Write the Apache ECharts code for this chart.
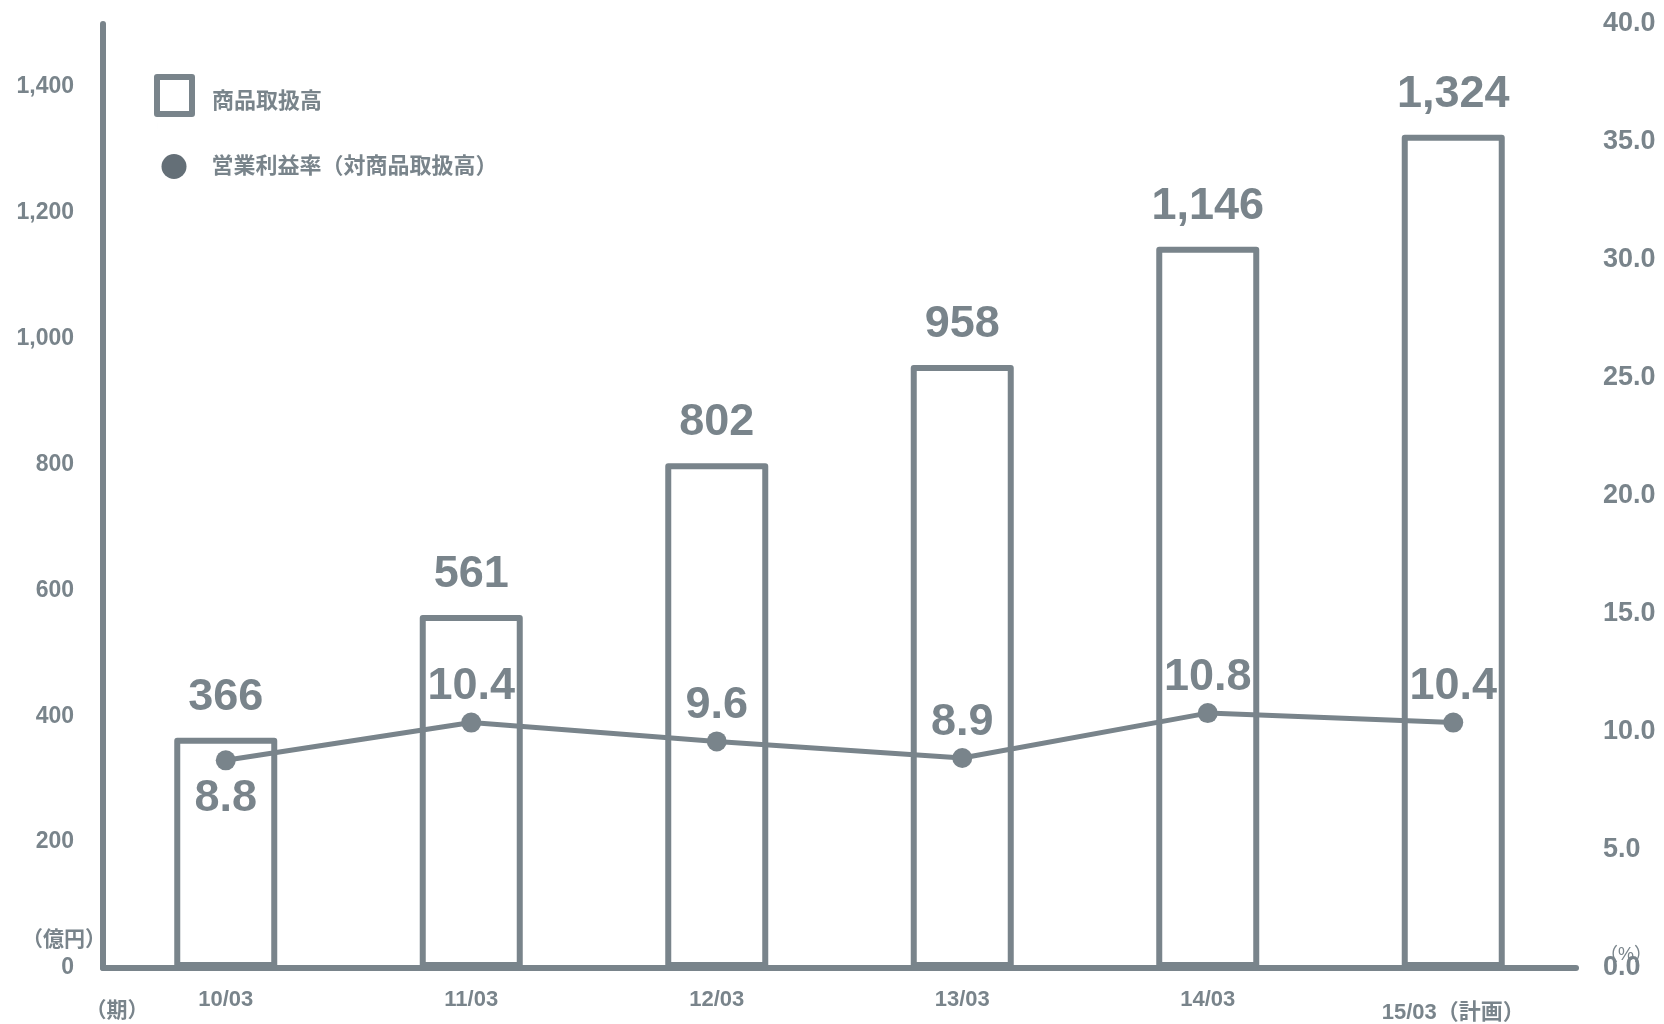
<!DOCTYPE html>
<html>
<head>
<meta charset="utf-8">
<script src="https://cdn.jsdelivr.net/npm/echarts@6/dist/echarts.min.js"></script>
<style>
html, body { margin: 0; padding: 0; background: #fff; }
#main { width: 1664px; height: 1024px; }
</style>
</head>
<body>
<div id="main"></div>
<script>
// data
var periods = ['10/03', '11/03', '12/03', '13/03', '14/03', '15/03（計画）'];
var sales = [366, 561, 802, 958, 1146, 1324];       // 商品取扱高（億円）
var margins = [8.8, 10.4, 9.6, 8.9, 10.8, 10.4];    // 営業利益率（%）
var salesAxis = { min: 0, max: 1500, interval: 200 };
var rateAxis = { min: 0, max: 40, interval: 5 };

var GRAY = '#79848b';
var DOT = '#646f77';
var FONT = '"Liberation Sans", "Noto Sans CJK JP", sans-serif';

function comma(v) { return Number(v).toLocaleString('en-US'); }

var myChart = echarts.init(document.getElementById('main'));

var options = {
  animation: false,
  backgroundColor: '#fff',
  textStyle: { fontFamily: FONT },
  grid: { left: 103, right: 88, top: 24, bottom: 56, outerBoundsMode: 'none', containLabel: false },
  legend: [
    {
      data: ['商品取扱高'],
      left: 154, top: 74, padding: 0,
      orient: 'vertical',
      selectedMode: false,
      // square sits in the upper part of the icon box so the text lands a little lower
      icon: 'path://M0,0L35,0L35,37L0,37Z M0,49L0.01,49',
      itemWidth: 35, itemHeight: 49,
      itemStyle: { color: '#fff', borderColor: GRAY, borderWidth: 6 },
      textStyle: { fontSize: 22, fontWeight: 'bold', color: GRAY, fontFamily: FONT, padding: [0, 0, 0, 15] }
    },
    {
      data: ['営業利益率（対商品取扱高）'],
      left: 161.5, top: 154, padding: 0,
      orient: 'vertical',
      selectedMode: false,
      icon: 'circle',
      itemWidth: 25, itemHeight: 25,
      itemStyle: { color: DOT, borderWidth: 0 },
      textStyle: { fontSize: 22, fontWeight: 'bold', color: GRAY, fontFamily: FONT, padding: [0, 0, 0, 20] }
    }
  ],
  xAxis: {
    type: 'category',
    data: periods.map(function (p, i) {
      return i === periods.length - 1 ? { value: p, textStyle: { padding: [13, 0, 0, 0] } } : p;
    }),
    axisLine: { lineStyle: { color: GRAY, width: 6 } },
    axisTick: { show: false },
    axisLabel: { margin: 21, fontSize: 22, fontWeight: 'bold', color: GRAY, fontFamily: FONT }
  },
  yAxis: [
    {
      type: 'value',
      min: salesAxis.min, max: salesAxis.max, interval: salesAxis.interval,
      axisLine: { show: true, lineStyle: { color: GRAY, width: 6 } },
      axisTick: { show: false },
      splitLine: { show: false },
      axisLabel: {
        margin: 29, fontSize: 23, fontWeight: 'bold', color: GRAY, fontFamily: FONT,
        showMaxLabel: false,
        formatter: function (v) { return comma(v); }
      }
    },
    {
      type: 'value',
      position: 'right',
      min: rateAxis.min, max: rateAxis.max, interval: rateAxis.interval,
      axisLine: { show: false },
      axisTick: { show: false },
      splitLine: { show: false },
      axisLabel: {
        margin: 27, fontSize: 27, fontWeight: 'bold', color: GRAY, fontFamily: FONT,
        formatter: function (v) { return v.toFixed(1); }
      }
    }
  ],
  series: [
    {
      name: '商品取扱高',
      type: 'bar',
      yAxisIndex: 0,
      barWidth: 103,
      data: sales,
      itemStyle: { color: '#fff', borderColor: GRAY, borderWidth: 6, borderJoin: 'round' },
      label: {
        show: true, position: 'top', distance: 18,
        fontSize: 45, fontWeight: 'bold', color: GRAY, fontFamily: FONT,
        formatter: function (p) { return comma(p.value); }
      },
      emphasis: { disabled: true }
    },
    {
      name: '営業利益率（対商品取扱高）',
      type: 'line',
      yAxisIndex: 1,
      data: margins.map(function (v, i) {
        return i === 0 ? { value: v, label: { position: 'bottom', distance: 6 } } : v;
      }),
      symbol: 'circle',
      symbolSize: 20,
      lineStyle: { color: GRAY, width: 5 },
      itemStyle: { color: GRAY },
      label: {
        show: true, position: 'top', distance: 3,
        fontSize: 45, fontWeight: 'bold', color: GRAY, fontFamily: FONT,
        formatter: function (p) { return p.value.toFixed(1); }
      },
      z: 3,
      emphasis: { disabled: true }
    }
  ],
  graphic: [
    { type: 'text', x: 64, y: 940, silent: true,
      style: { text: '（億円）', fill: GRAY, font: 'bold 21px ' + FONT, align: 'center', verticalAlign: 'middle', textAlign: 'center', textVerticalAlign: 'middle' } },
    { type: 'text', x: 117, y: 1011, silent: true,
      style: { text: '（期）', fill: GRAY, font: 'bold 21px ' + FONT, align: 'center', verticalAlign: 'middle', textAlign: 'center', textVerticalAlign: 'middle' } },
    { type: 'text', x: 1626, y: 955, z: 10, silent: true,
      style: { text: '（%）', fill: GRAY, font: '18px ' + FONT, align: 'center', verticalAlign: 'middle', textAlign: 'center', textVerticalAlign: 'middle' } }
  ]
};

myChart.setOption(options);
</script>
</body>
</html>
